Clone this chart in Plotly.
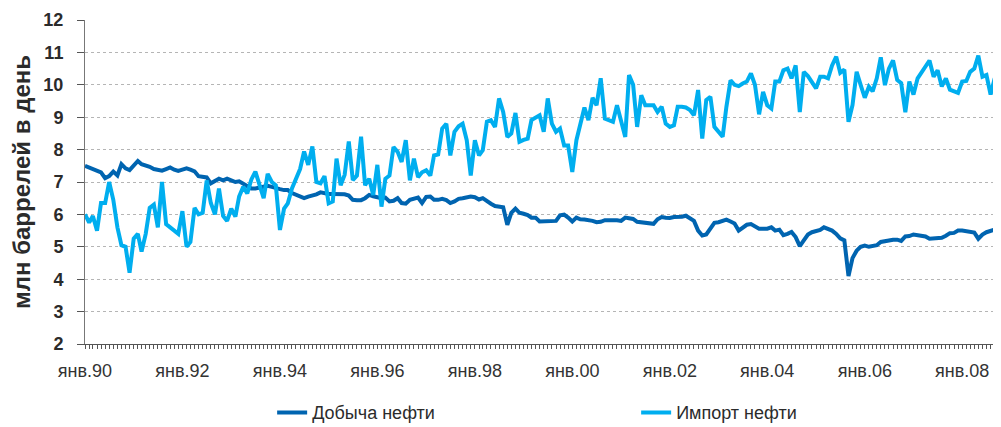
import pandas as pd
import plotly.graph_objects as go

# Monthly values, Jan 1990 .. Oct 2008 (million barrels per day)
production = [
    7.50, 7.45, 7.42, 7.38, 7.30, 7.12, 7.18, 7.32, 7.20, 7.55, 7.42, 7.37,  # 1990
    7.50, 7.65, 7.55, 7.52, 7.47, 7.40, 7.37, 7.35, 7.40, 7.45, 7.38, 7.34,  # 1991
    7.38, 7.42, 7.38, 7.33, 7.18, 7.15, 7.14, 6.96, 7.04, 7.10, 7.05, 7.10,  # 1992
    7.05, 7.00, 7.02, 6.95, 6.88, 6.80, 6.80, 6.83, 6.88, 6.88, 6.85, 6.80,  # 1993
    6.78, 6.75, 6.75, 6.66, 6.60, 6.55, 6.50, 6.55, 6.58, 6.62, 6.68, 6.64,  # 1994
    6.63, 6.63, 6.63, 6.63, 6.62, 6.58, 6.45, 6.44, 6.44, 6.50, 6.60, 6.56,  # 1995
    6.52, 6.50, 6.52, 6.40, 6.42, 6.50, 6.35, 6.33, 6.45, 6.48, 6.52, 6.35,  # 1996
    6.54, 6.55, 6.45, 6.45, 6.48, 6.44, 6.35, 6.40, 6.48, 6.50, 6.52, 6.55,  # 1997
    6.53, 6.46, 6.50, 6.40, 6.33, 6.26, 6.24, 6.22, 5.68, 6.05, 6.18, 6.05,  # 1998
    6.02, 5.98, 5.90, 5.90, 5.78, 5.78, 5.80, 5.80, 5.80, 5.97, 5.99, 5.90,  # 1999
    5.78, 5.90, 5.85, 5.84, 5.83, 5.80, 5.76, 5.77, 5.82, 5.83, 5.84, 5.82,  # 2000
    5.80, 5.90, 5.88, 5.86, 5.77, 5.76, 5.76, 5.73, 5.71, 5.85, 5.92, 5.90,  # 2001
    5.89, 5.92, 5.92, 5.93, 5.96, 5.86, 5.80, 5.50, 5.35, 5.38, 5.56, 5.74,  # 2002
    5.76, 5.80, 5.84, 5.78, 5.72, 5.50, 5.60, 5.68, 5.70, 5.62, 5.56, 5.56,  # 2003
    5.56, 5.60, 5.50, 5.53, 5.36, 5.40, 5.46, 5.30, 5.02, 5.20, 5.38, 5.45,  # 2004
    5.48, 5.52, 5.60, 5.56, 5.50, 5.40, 5.26, 5.20, 4.10, 4.65, 4.88, 5.00,  # 2005
    5.04, 5.00, 5.02, 5.05, 5.15, 5.18, 5.20, 5.22, 5.22, 5.18, 5.32, 5.33,  # 2006
    5.38, 5.36, 5.35, 5.32, 5.25, 5.27, 5.28, 5.28, 5.34, 5.42, 5.43, 5.50,  # 2007
    5.50, 5.47, 5.45, 5.44, 5.25, 5.38, 5.45, 5.48, 5.53, 5.60,              # 2008
]

imports = [
    6.00, 5.75, 5.95, 5.50, 6.35, 6.35, 7.00, 6.45, 5.60, 5.05, 5.00, 4.20,  # 1990
    5.25, 5.40, 4.85, 5.40, 6.20, 6.30, 5.60, 7.00, 5.70, 5.60, 5.50, 5.40,  # 1991
    6.10, 5.00, 5.15, 6.20, 6.00, 6.05, 7.05, 6.35, 6.00, 6.80, 5.95, 5.80,  # 1992
    6.18, 5.93, 6.55, 6.85, 6.65, 7.08, 7.32, 6.86, 6.50, 7.25, 7.00, 6.90,  # 1993
    5.52, 6.18, 6.34, 6.80, 7.06, 7.40, 7.94, 7.53, 8.10, 7.00, 6.96, 7.18,  # 1994
    6.34, 6.40, 7.72, 6.90, 7.22, 8.25, 7.06, 7.20, 8.40, 6.90, 7.10, 6.60,  # 1995
    7.53, 6.24, 7.10, 7.20, 8.08, 7.93, 7.62, 8.29, 7.05, 7.72, 7.15, 7.30,  # 1996
    7.36, 7.20, 7.82, 7.85, 8.65, 8.80, 7.82, 8.55, 8.72, 8.80, 8.29, 7.20,  # 1997
    8.29, 7.82, 7.98, 8.86, 8.91, 8.70, 9.58, 9.16, 8.39, 8.50, 9.13, 8.24,  # 1998
    8.30, 8.34, 8.91, 9.00, 9.06, 8.55, 9.58, 8.80, 8.55, 8.65, 8.13, 8.13,  # 1999
    7.31, 8.29, 8.75, 9.30, 8.91, 9.60, 9.37, 10.20, 8.96, 8.91, 8.86, 9.37,  # 2000
    8.86, 8.39, 10.30, 10.00, 8.70, 9.68, 9.37, 9.37, 9.37, 9.16, 9.32, 8.80,  # 2001
    8.70, 8.75, 9.32, 9.32, 9.30, 9.22, 9.06, 9.84, 8.34, 9.53, 9.63, 8.70,  # 2002
    8.55, 8.40, 9.32, 10.14, 10.00, 9.96, 10.04, 10.10, 10.35, 10.00, 9.09, 9.78,  # 2003
    9.37, 9.27, 10.10, 10.10, 10.45, 10.50, 10.20, 10.60, 9.16, 10.40, 10.27, 10.10,  # 2004
    9.89, 10.25, 10.25, 10.20, 10.60, 10.87, 10.37, 10.47, 8.86, 9.37, 10.40, 10.00,  # 2005
    9.60, 9.94, 9.80, 10.20, 10.85, 9.99, 10.50, 10.75, 10.15, 10.05, 9.15, 10.10,  # 2006
    9.70, 10.20, 10.37, 10.55, 10.75, 10.25, 10.45, 9.95, 10.20, 9.85, 9.80, 9.75,  # 2007
    10.10, 10.12, 10.40, 10.50, 10.90, 10.25, 10.30, 9.70, 10.20, 9.70,  # 2008
]

months = pd.date_range("1990-01-01", periods=len(production), freq="MS")

tick_dates = ["1990-01-01", "1992-01-01", "1994-01-01", "1996-01-01", "1998-01-01",
              "2000-01-01", "2002-01-01", "2004-01-01", "2006-01-01", "2008-01-01"]
tick_labels = ["янв.90", "янв.92", "янв.94", "янв.96", "янв.98",
               "янв.00", "янв.02", "янв.04", "янв.06", "янв.08"]

series_names = ["Добыча нефти", "Импорт нефти"]
colors = ["#0064B0", "#00AEEF"]

fig = go.Figure()
for name, vals, col in zip(series_names, [production, imports], colors):
    fig.add_trace(go.Scatter(
        x=months, y=vals, mode="lines", name=name,
        line=dict(color=col, width=4),
    ))

font_family = "Liberation Sans, Arial, sans-serif"

# page body adds an 8px offset, so the figure is 8px smaller on each axis
fig.update_layout(
    width=993, height=419,
    margin=dict(l=77, r=0, t=12, b=83),
    paper_bgcolor="white", plot_bgcolor="white",
    font=dict(family=font_family, color="#333333"),
    showlegend=True,
    legend=dict(
        orientation="h", xref="container", yref="container",
        x=0.266, xanchor="left", y=0.034, yanchor="middle",
        font=dict(size=18, color="#2b2b2b", family=font_family),
        entrywidth=319, entrywidthmode="pixels",
        bgcolor="rgba(0,0,0,0)", traceorder="normal",
    ),
    xaxis=dict(
        type="date", automargin=False,
        range=["1990-01-01", "2008-10-18"],
        tickmode="array", tickvals=tick_dates, ticktext=tick_labels,
        ticks="outside", ticklen=4, tickcolor="#555555", tickwidth=1,
        minor=dict(dtick="M1", tick0="1990-01-01", ticks="outside", ticklen=4,
                   tickcolor="#555555", tickwidth=1, showgrid=False),
        showline=True, linecolor="#555555", linewidth=1,
        showgrid=False, zeroline=False,
        ticklabelstandoff=6,
        tickfont=dict(size=18, color="#333333"),
    ),
    yaxis=dict(
        range=[2, 12], dtick=1, tick0=2, automargin=False,
        ticks="outside", ticklen=7, tickcolor="#555555", tickwidth=1,
        showline=True, linecolor="#777777", linewidth=1,
        showgrid=True, gridcolor="#b5b5b5", griddash="dot", gridwidth=1,
        zeroline=False,
        tickfont=dict(size=18, color="#2b2b2b", family=font_family, weight="bold"),
        ticklabelstandoff=10,
        title=dict(text="<b>млн баррелей в день</b>", font=dict(size=24, color="#2b2b2b"), standoff=12),
    ),
)

fig.write_html("out.html")
